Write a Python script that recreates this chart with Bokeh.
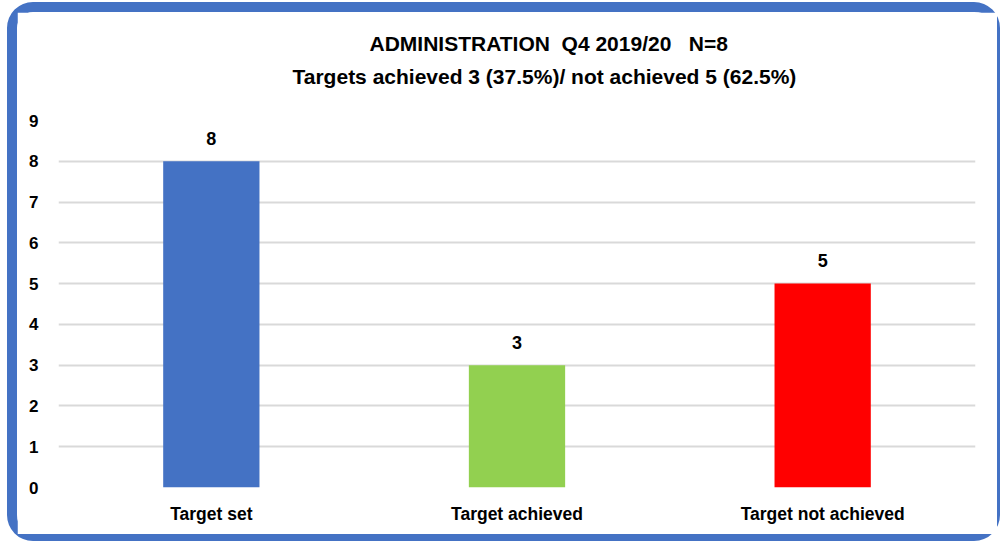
from bokeh.plotting import figure
from bokeh.models import Range1d, Title, ColumnDataSource
from bokeh.core.properties import value
from bokeh.embed import file_html
from bokeh.resources import INLINE

categories = ["Target set", "Target achieved", "Target not achieved"]
counts = [8, 3, 5]
bar_colors = ["#4472C4", "#92D050", "#FF0000"]
y_ticks = [0, 1, 2, 3, 4, 5, 6, 7, 8, 9]
title_line1 = "ADMINISTRATION\u00a0 Q4 2019/20\u00a0\u00a0 N=8"
title_line2 = "Targets achieved 3 (37.5%)/ not achieved 5 (62.5%)"

FONT = "Liberation Sans"

src = ColumnDataSource(dict(cat=categories, val=counts, color=bar_colors,
                            lbl=[str(v) for v in counts]))

# host box: 993 x 539 at page (7, 2); canvas starts inside the border at (17, 12)
p = figure(x_range=categories, y_range=Range1d(0, 9), width=993, height=539,
           output_backend="svg", toolbar_location=None,
           min_border_left=41, min_border_right=35, min_border_top=108,
           min_border_bottom=64)
p.styles = {"margin-left": "7px", "margin-top": "2px",
            "border-style": "solid", "border-color": "#4472C4",
            "border-width": "10px 3px 7px 10px",
            "border-radius": "26px", "background-color": "white"}
p.outline_line_color = None
p.background_fill_color = "white"
p.border_fill_color = "white"

p.vbar(x="cat", top="val", width=0.315, color="color", line_color=None, source=src)
p.text(x="cat", y="val", text="lbl", source=src, y_offset=-23,
       text_align="center", text_baseline="middle",
       text_font=value(FONT), text_font_style="bold", text_font_size="18px",
       text_color="#000000")

p.xgrid.grid_line_color = None
p.ygrid.grid_line_color = "#D9D9D9"
p.ygrid.grid_line_width = 2
p.yaxis.ticker = y_ticks

for ax in (p.xaxis, p.yaxis):
    ax.axis_line_color = None
    ax.major_tick_line_color = None
    ax.minor_tick_line_color = None
    ax.major_label_text_font = FONT
    ax.major_label_text_font_style = "bold"
    ax.major_label_text_color = "#000000"

p.yaxis.major_label_text_font_size = "17px"
p.yaxis.major_label_standoff = 14
p.xaxis.major_label_text_font_size = "17.5px"
p.xaxis.major_label_standoff = 10

# spacer closest to the plot, then subtitle, then title
p.add_layout(Title(text=" ", text_font_size="2px", standoff=24), "above")
p.add_layout(Title(text=title_line2, align="left", offset=234,
                   vertical_align="middle", standoff=8, text_font=FONT,
                   text_font_style="bold", text_font_size="21px",
                   text_color="#000000"), "above")
p.add_layout(Title(text=title_line1, align="left", offset=311,
                   vertical_align="middle", standoff=8, text_font=FONT,
                   text_font_style="bold", text_font_size="21px",
                   text_color="#000000"), "above")

open("out.html", "w").write(file_html(p, INLINE))
